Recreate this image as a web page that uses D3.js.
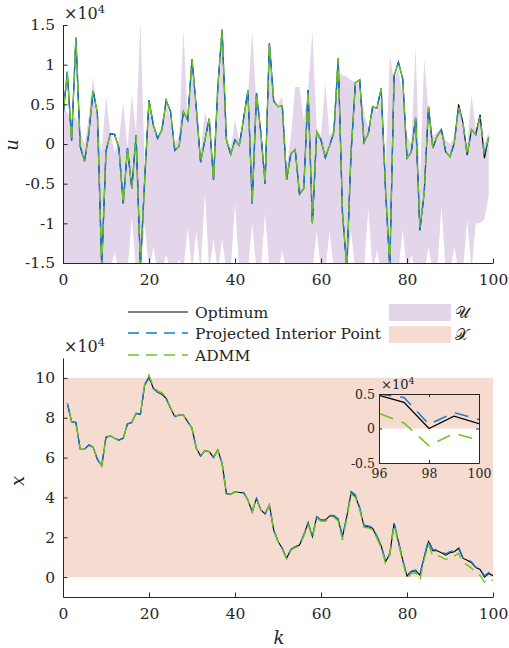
<!DOCTYPE html>
<html>
<head>
<meta charset="utf-8">
<script src="https://cdn.jsdelivr.net/npm/d3@7"></script>
<style>
body { margin: 0; background: #fff; }
svg text { fill: #262626; }
</style>
</head>
<body>
<div id="chart"></div>
<script>
// ---- data (values in units of 1e4) ----
// input u, k = 0..99
var uOpt = [0.35, 0.91, 0.04, 1.34, -0.03, -0.22, 0.13, 0.67, 0.39, -1.55,
  -0.09, 0.13, 0.12, -0.05, -0.75, -0.05, -0.56, 0.11, -1.55, -0.45,
  0.55, 0.24, 0.07, 0.18, 0.55, 0.41, -0.08, -0.03, 0.41, 0.3,
  1.07, 0.45, -0.23, 0.05, 0.32, -0.45, 0.72, 1.44, 0.05, -0.13,
  0.05, -0.02, 0.32, 0.68, -0.75, 0.64, 0.15, -0.5, 1.27, 0.54,
  0.47, 0.48, -0.45, -0.12, -0.07, -0.63, -0.56, 0.68, -1.0, 0.15,
  0.05, -0.17, -0.02, 0.15, 1.08, -0.88, -1.55, -0.1, 0.77, 0.81,
  0.02, 0.13, 0.47, 0.45, 0.70, -0.57, -1.55, 0.86, 1.03, 0.82,
  -0.18, -0.1, 0.33, -1.09, -0.62, 0.47, -0.05, 0.1, 0.18, -0.1,
  -0.16, 0.01, 0.5, 0.27, -0.14, 0.18, 0.12, 0.37, -0.18, 0.09];
var uPIP = [0.35, 0.91, 0.04, 1.34, -0.03, -0.22, 0.13, 0.67, 0.39, -1.55,
  -0.09, 0.13, 0.12, -0.05, -0.75, -0.05, -0.56, 0.11, -1.55, -0.45,
  0.55, 0.24, 0.07, 0.18, 0.55, 0.41, -0.08, -0.03, 0.41, 0.3,
  1.07, 0.45, -0.23, 0.05, 0.32, -0.45, 0.72, 1.44, 0.05, -0.13,
  0.05, -0.02, 0.32, 0.68, -0.75, 0.64, 0.15, -0.5, 1.27, 0.54,
  0.47, 0.48, -0.45, -0.12, -0.07, -0.63, -0.56, 0.68, -1.0, 0.15,
  0.05, -0.17, -0.02, 0.15, 1.08, -0.88, -1.55, -0.1, 0.77, 0.81,
  0.02, 0.13, 0.47, 0.45, 0.70, -0.57, -1.55, 0.86, 1.03, 0.82,
  -0.18, -0.1, 0.33, -1.07, -0.62, 0.47, -0.05, 0.1, 0.18, -0.1,
  -0.16, 0.01, 0.48, 0.27, -0.14, 0.18, 0.12, 0.35, -0.15, 0.09];
var uADMM = [0.35, 0.91, 0.04, 1.34, -0.03, -0.22, 0.13, 0.67, 0.39, -1.55,
  -0.09, 0.13, 0.12, -0.05, -0.75, -0.05, -0.56, 0.11, -1.55, -0.45,
  0.55, 0.24, 0.07, 0.18, 0.55, 0.41, -0.08, -0.03, 0.41, 0.3,
  1.07, 0.45, -0.23, 0.05, 0.32, -0.45, 0.72, 1.44, 0.05, -0.13,
  0.05, -0.02, 0.32, 0.68, -0.75, 0.64, 0.15, -0.5, 1.27, 0.54,
  0.47, 0.48, -0.45, -0.12, -0.07, -0.63, -0.56, 0.68, -1.0, 0.15,
  0.05, -0.17, -0.02, 0.15, 1.08, -0.88, -1.55, -0.1, 0.77, 0.81,
  0.02, 0.13, 0.47, 0.45, 0.70, -0.57, -1.55, 0.86, 1.03, 0.82,
  -0.18, -0.1, 0.33, -1.05, -0.62, 0.47, -0.05, 0.1, 0.18, -0.1,
  -0.16, 0.01, 0.46, 0.27, -0.14, 0.18, 0.12, 0.33, -0.12, 0.09];

// input set U (upper / lower bound), k = 0..99
var uSetHi = [0.45, 0.4, 0.3, 0.35, 0.15, 0.0, 0.35, 0.85, 0.3, -0.1,
  0.6, 0.15, -0.1, 0.05, 0.52, -0.05, 0.62, 0.15, 1.55, -0.3,
  0.55, 0.3, 0.1, 0.2, 0.55, 0.3, 0.0, 0.1, 1.45, 0.3,
  0.9, 0.4, -0.1, 0.4, 0.2, -0.3, 0.6, 1.3, 0.1, -0.05,
  0.3, 0.05, 0.3, 0.6, 1.42, 0.5, 0.2, -0.3, 1.1, 0.5,
  0.5, 0.6, -0.3, 0.1, 0.72, 0.72, 0.3, 0.7, 1.42, 0.2,
  0.1, 0.77, 0.1, 0.2, 0.9, 0.87, 0.85, 0.8, 0.78, 0.75,
  0.4, 0.2, 0.5, 0.4, 0.6, -0.3, 1.12, 0.8, 0.95, 0.6,
  0.1, 0.0, 1.23, -0.5, 1.08, 0.4, 0.1, 0.15, 0.2, 0.05,
  0.0, 0.1, 0.45, 0.2, 0.0, 0.62, 0.2, 0.3, 0.0, 0.15];
var uSetLo = [-1.6, -1.6, -1.6, -1.6, -1.6, -1.6, -1.6, -1.6, -1.6, -1.6,
  -1.6, -1.6, -1.36, -1.6, -1.6, -1.6, -0.92, -1.6, -1.6, -1.0,
  -1.6, -1.3, -1.6, -1.6, -1.4, -1.6, -1.6, -1.45, -1.6, -1.05,
  -1.6, -1.1, -1.6, -0.62, -1.6, -1.2, -1.6, -1.2, -1.6, -1.6,
  -0.75, -1.6, -1.6, -1.6, -1.0, -1.6, -1.6, -0.87, -1.6, -1.6,
  -1.6, -1.35, -1.6, -1.5, -1.6, -1.6, -1.6, -1.6, -1.6, -1.1,
  -1.6, -1.6, -1.1, -1.6, -1.6, -1.6, -1.6, -1.1, -1.6, -1.6,
  -1.6, -0.79, -1.6, -1.35, -1.6, -1.6, -1.6, -1.6, -1.6, -1.08,
  -1.6, -1.4, -1.6, -1.6, -1.6, -1.3, -1.6, -1.6, -0.79, -1.6,
  -1.6, -1.3, -1.6, -1.6, -0.96, -1.6, -1.0, -1.0, -0.95, -0.66];

// state x, k = 1..100
var xOpt = [8.73, 7.8, 7.76, 6.42, 6.42, 6.63, 6.52, 5.91, 5.58, 7.02,
  7.09, 6.97, 6.88, 6.97, 7.69, 7.76, 8.22, 8.17, 9.65, 10.05,
  9.48, 9.28, 9.18, 8.98, 8.48, 8.06, 8.14, 8.14, 7.8, 7.47,
  6.47, 6.08, 6.35, 6.3, 6.01, 6.38, 5.71, 4.2, 4.15, 4.29,
  4.25, 4.24, 3.87, 3.28, 3.95, 3.37, 3.17, 3.62, 2.36, 1.8,
  1.44, 0.94, 1.39, 1.52, 1.61, 2.11, 2.73, 2.03, 3.03, 2.86,
  2.86, 3.07, 3.07, 2.9, 2.03, 3.03, 4.24, 4.07, 3.45, 2.56,
  2.53, 2.45, 2.03, 1.56, 0.77, 1.16, 2.7, 1.78, 0.85, 0.05,
  0.27, 0.32, 0.1, 1.02, 1.78, 1.32, 1.32, 1.22, 1.1, 1.22,
  1.27, 1.45, 0.95, 0.85, 0.72, 0.48, 0.38, 0.0, 0.18, 0.07];
var xPIP = [8.73, 7.8, 7.76, 6.42, 6.42, 6.63, 6.52, 5.91, 5.58, 7.02,
  7.09, 6.97, 6.88, 6.97, 7.69, 7.76, 8.22, 8.17, 9.65, 10.0,
  9.48, 9.28, 9.18, 8.98, 8.48, 8.06, 8.14, 8.14, 7.8, 7.47,
  6.47, 6.08, 6.35, 6.3, 6.01, 6.38, 5.71, 4.2, 4.15, 4.29,
  4.25, 4.24, 3.87, 3.28, 3.95, 3.37, 3.17, 3.62, 2.36, 1.8,
  1.44, 0.94, 1.39, 1.52, 1.61, 2.11, 2.73, 2.03, 3.03, 2.86,
  2.86, 3.1, 3.1, 2.92, 2.03, 3.03, 4.3, 4.12, 3.5, 2.6,
  2.57, 2.49, 2.07, 1.6, 0.79, 1.18, 2.72, 1.8, 0.87, 0.08,
  0.3, 0.35, 0.12, 1.06, 1.84, 1.38, 1.38, 1.28, 1.16, 1.28,
  1.33, 1.5, 1.0, 0.9, 0.77, 0.5, 0.45, 0.06, 0.23, 0.13];
var xADMM = [8.73, 7.8, 7.76, 6.42, 6.42, 6.63, 6.52, 5.91, 5.58, 7.02,
  7.09, 6.97, 6.88, 6.97, 7.69, 7.76, 8.22, 8.17, 9.72, 10.15,
  9.55, 9.35, 9.25, 9.02, 8.5, 8.06, 8.14, 8.14, 7.8, 7.47,
  6.47, 6.08, 6.35, 6.3, 6.01, 6.38, 5.71, 4.2, 4.15, 4.29,
  4.25, 4.24, 3.87, 3.28, 3.95, 3.37, 3.17, 3.62, 2.36, 1.78,
  1.4, 0.9, 1.35, 1.48, 1.57, 2.05, 2.67, 1.97, 2.97, 2.8,
  2.8, 3.0, 3.0, 2.82, 1.85, 2.95, 4.18, 4.0, 3.38, 2.5,
  2.47, 2.38, 1.95, 1.48, 0.7, 1.1, 2.62, 1.7, 0.77, -0.07,
  0.18, 0.22, -0.15, 0.9, 1.65, 1.05, 1.1, 1.0, 0.88, 1.0,
  1.05, 1.2, 0.72, 0.6, 0.45, 0.22, 0.08, -0.25, -0.07, -0.17];

// state set X bounds
var xSetBounds = [0, 10];
var kRange = [0, 100];

// tick labels
var kTicks = [0, 20, 40, 60, 80, 100];
var uTicks = [-1.5, -1, -0.5, 0, 0.5, 1, 1.5];
var xTicks = [0, 2, 4, 6, 8, 10];
var insetKTicks = [96, 98, 100];
var insetXTicks = [-0.5, 0, 0.5];

var seriesNames = ["Optimum", "Projected Interior Point", "ADMM"];
var setNames = ["\uD835\uDCB0", "\uD835\uDCB3"];

// ---- chart ----
var svgWidth = 509;
var svgHeight = 648;
var serif = "DejaVu Serif";
var axisColor = "#262626";
var purple = "#e3d6ea";
var pink = "#f6dbd0";
var colors = ["#000000", "#1a78cc", "#6cc424"];
var dash = "11,7";
var fontSize = 15.5;
var insetFont = 12.5;

var svg = d3.select("#chart").append("svg")
    .attr("width", svgWidth)
    .attr("height", svgHeight)
    .attr("font-family", serif);
svg.append("rect").attr("width", svgWidth).attr("height", svgHeight).attr("fill", "#fff");

var defs = svg.append("defs");
function addClip(id, x, y, w, h) {
    defs.append("clipPath").attr("id", id)
      .append("rect").attr("x", x).attr("y", y).attr("width", w).attr("height", h);
}

// style an axis group the MATLAB way
function styleAxis(g, size) {
    g.attr("font-family", serif).attr("font-size", size);
    g.selectAll("path.domain").attr("stroke", axisColor).attr("stroke-width", 1);
    g.selectAll(".tick line").attr("stroke", axisColor).attr("stroke-width", 1);
    g.selectAll(".tick text").attr("fill", axisColor);
}

function expLabel(x, y, size) {
    var t = svg.append("text").attr("x", x).attr("y", y)
      .attr("font-size", size).attr("font-family", serif);
    t.append("tspan").text("\u00d710");
    t.append("tspan").attr("dy", -size * 0.4).attr("font-size", size * 0.72).text("4");
}

function fmt(d) { return String(d); }

// ===== top panel: u =====
var xU = d3.scaleLinear().domain(kRange).range([63, 493]);
var yU = d3.scaleLinear().domain([-1.5, 1.5]).range([263, 25]);
addClip("clipTop", 63, 25, 430, 238);

var topG = svg.append("g").attr("clip-path", "url(#clipTop)");

var uArea = d3.area()
    .x(function(d, i) { return xU(i); })
    .y0(function(d, i) { return yU(uSetLo[i]); })
    .y1(function(d) { return yU(d); });
topG.append("path").datum(uSetHi).attr("d", uArea).attr("fill", purple);

var uLine = d3.line()
    .x(function(d, i) { return xU(i); })
    .y(function(d) { return yU(d); });
[uOpt, uPIP, uADMM].forEach(function(s, j) {
    topG.append("path").datum(s)
      .attr("d", uLine)
      .attr("fill", "none")
      .attr("stroke", colors[j])
      .attr("stroke-width", j === 0 ? 1.1 : 1.4)
      .attr("stroke-dasharray", j === 0 ? null : dash)
      .attr("stroke-dashoffset", j === 2 ? 9 : 0);
});

var topXAxis = svg.append("g").attr("transform", "translate(0,263)")
    .call(d3.axisBottom(xU).tickValues(kTicks).tickSize(-4.5).tickSizeOuter(0).tickPadding(11).tickFormat(fmt));
styleAxis(topXAxis, fontSize);
var topYAxis = svg.append("g").attr("transform", "translate(63,0)")
    .call(d3.axisLeft(yU).tickValues(uTicks).tickSize(-4.5).tickSizeOuter(0).tickPadding(8).tickFormat(fmt));
styleAxis(topYAxis, fontSize);

expLabel(64, 19, 16);
svg.append("text")
    .attr("transform", "translate(18,145) rotate(-90)")
    .attr("text-anchor", "middle")
    .attr("font-size", 18)
    .attr("font-style", "italic")
    .text("u");

// ===== legend =====
var legRows = [312, 333, 355];
seriesNames.forEach(function(name, j) {
    svg.append("line")
      .attr("x1", 128).attr("x2", 188)
      .attr("y1", legRows[j]).attr("y2", legRows[j])
      .attr("stroke", colors[j])
      .attr("stroke-width", j === 0 ? 1.1 : 1.4)
      .attr("stroke-dasharray", j === 0 ? null : dash);
    svg.append("text")
      .attr("x", 195).attr("y", legRows[j])
      .attr("dy", "0.36em")
      .attr("font-size", fontSize)
      .text(name);
});
[purple, pink].forEach(function(c, j) {
    svg.append("rect")
      .attr("x", 389).attr("y", 304 + j * 22)
      .attr("width", 62).attr("height", 17)
      .attr("fill", c);
    svg.append("text")
      .attr("x", 455).attr("y", 312 + j * 22)
      .attr("dy", "0.36em")
      .attr("font-size", 16)
      .text(setNames[j]);
});

// ===== bottom panel: x =====
var xX = d3.scaleLinear().domain(kRange).range([63, 493]);
var yX = d3.scaleLinear().domain([-1, 11]).range([597, 358]);
addClip("clipBot", 63, 358, 430, 239);

var botG = svg.append("g").attr("clip-path", "url(#clipBot)");
botG.append("rect")
    .attr("x", xX(kRange[0])).attr("y", yX(xSetBounds[1]))
    .attr("width", xX(kRange[1]) - xX(kRange[0]))
    .attr("height", yX(xSetBounds[0]) - yX(xSetBounds[1]))
    .attr("fill", pink);

var xLine = d3.line()
    .x(function(d, i) { return xX(i + 1); })
    .y(function(d) { return yX(d); });
[xOpt, xPIP, xADMM].forEach(function(s, j) {
    botG.append("path").datum(s)
      .attr("d", xLine)
      .attr("fill", "none")
      .attr("stroke", colors[j])
      .attr("stroke-width", j === 0 ? 1.1 : 1.4)
      .attr("stroke-dasharray", j === 0 ? null : dash)
      .attr("stroke-dashoffset", j === 2 ? 9 : 0);
});

var botXAxis = svg.append("g").attr("transform", "translate(0,597)")
    .call(d3.axisBottom(xX).tickValues(kTicks).tickSize(-4.5).tickSizeOuter(0).tickPadding(11).tickFormat(fmt));
styleAxis(botXAxis, fontSize);
var botYAxis = svg.append("g").attr("transform", "translate(63,0)")
    .call(d3.axisLeft(yX).tickValues(xTicks).tickSize(-4.5).tickSizeOuter(0).tickPadding(8).tickFormat(fmt));
styleAxis(botYAxis, fontSize);

expLabel(64, 352, 16);
svg.append("text")
    .attr("transform", "translate(24,481) rotate(-90)")
    .attr("text-anchor", "middle")
    .attr("font-size", 18)
    .attr("font-style", "italic")
    .text("x");
svg.append("text")
    .attr("x", 279).attr("y", 644)
    .attr("text-anchor", "middle")
    .attr("font-size", 18)
    .attr("font-style", "italic")
    .text("k");

// ===== inset =====
var xI = d3.scaleLinear().domain([96, 100]).range([379, 479]);
var yI = d3.scaleLinear().domain([-0.5, 0.5]).range([463, 394]);
addClip("clipInset", 379, 394, 100, 69);
var inG = svg.append("g").attr("clip-path", "url(#clipInset)");
inG.append("rect").attr("x", 379).attr("y", 394).attr("width", 100).attr("height", 69).attr("fill", "#fff");
inG.append("rect")
    .attr("x", xI(96)).attr("y", yI(xSetBounds[1]))
    .attr("width", xI(100) - xI(96))
    .attr("height", yI(xSetBounds[0]) - yI(xSetBounds[1]))
    .attr("fill", pink);
var inLine = d3.line()
    .x(function(d, i) { return xI(i + 1); })
    .y(function(d) { return yI(d); });
[xOpt, xPIP, xADMM].forEach(function(s, j) {
    inG.append("path").datum(s)
      .attr("d", inLine)
      .attr("fill", "none")
      .attr("stroke", colors[j])
      .attr("stroke-width", j === 0 ? 1.3 : 1.5)
      .attr("stroke-dasharray", j === 0 ? null : "14,9");
});
var inB = svg.append("g").attr("transform", "translate(0,463)")
    .call(d3.axisBottom(xI).tickValues(insetKTicks).tickSize(-3).tickSizeOuter(0).tickPadding(6).tickFormat(fmt));
styleAxis(inB, insetFont);
var inT = svg.append("g").attr("transform", "translate(0,394)")
    .call(d3.axisTop(xI).tickValues(insetKTicks).tickSize(-3).tickSizeOuter(0).tickFormat(""));
styleAxis(inT, insetFont);
var inL = svg.append("g").attr("transform", "translate(379,0)")
    .call(d3.axisLeft(yI).tickValues(insetXTicks).tickSize(-3).tickSizeOuter(0).tickPadding(4).tickFormat(fmt));
styleAxis(inL, insetFont);
var inR = svg.append("g").attr("transform", "translate(479,0)")
    .call(d3.axisRight(yI).tickValues(insetXTicks).tickSize(-3).tickSizeOuter(0).tickFormat(""));
styleAxis(inR, insetFont);
expLabel(381, 389, 13);
</script>
</body>
</html>
